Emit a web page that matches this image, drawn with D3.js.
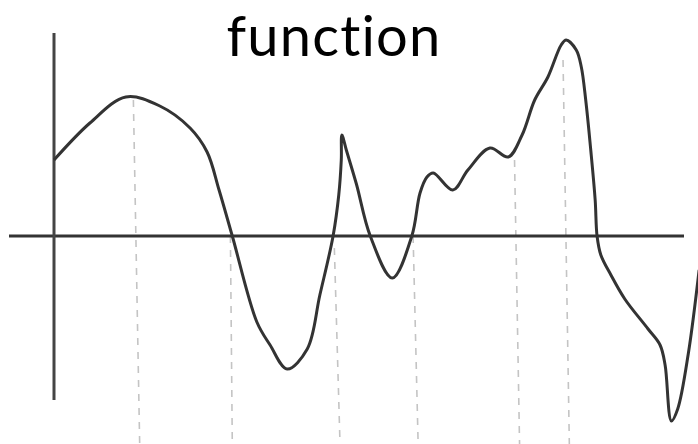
<!DOCTYPE html>
<html>
<head>
<meta charset="utf-8">
<script src="https://cdn.jsdelivr.net/npm/d3@7"></script>
<style>
  html, body { margin: 0; padding: 0; background: #fff; }
  svg { display: block; }
</style>
</head>
<body>
<script>
// ---- Data (x in abstract units 0..100, y in units -10..10) ----
const title = "function";
const curveX = [0, 5.7, 11.4, 16.8, 21.6, 24.3, 26.2, 28.3, 32.2, 34.3, 37.0, 40.2, 42.2, 44.3, 45.2, 45.6, 45.7, 46.4, 48.0, 50.2, 53.7, 56.8, 58.1, 59.2, 60.2, 63.3, 65.7, 69.2, 72.1, 74.3, 76.3, 78.4, 80.5, 81.3, 82.9, 83.7, 84.4, 85.2, 85.9, 86.2, 86.8, 88.4, 90.6, 94.3, 96.2, 97.0, 98.0, 99.0, 100.7, 102.4];
const curveY = [3.8, 5.65, 6.95, 6.5, 5.4, 4.2, 2.3, 0, -4.3, -5.45, -6.65, -5.65, -2.95, 0, 2.05, 3.8, 5.05, 4.3, 2.6, 0, -2.1, 0, 2.15, 2.95, 3.15, 2.3, 3.3, 4.4, 3.95, 5.05, 6.8, 7.95, 9.55, 9.8, 9.3, 8.45, 6.8, 4.3, 1.8, 0, -0.95, -1.95, -3.15, -4.65, -5.45, -6.45, -9.25, -8.65, -5.85, -1.7];
// dashed guide lines: x position (top, bottom) and top y value
const guideX0 = [12.6, 28.0, 44.5, 57.0, 73.1, 80.8];
const guideX1 = [13.6, 28.3, 45.4, 57.8, 73.9, 81.8];
const guideTop = [6.8, 0, -0.6, 0, 3.8, 8.8];

const W = 698, H = 444;
const x = d3.scaleLinear().domain([0, 100]).range([54, 684]);
const y = d3.scaleLinear().domain([-10, 10]).range([436, 36]);

const svg = d3.select("body").append("svg").attr("width", W).attr("height", H);

// dashed guides
const gGuides = svg.append("g");
guideX0.forEach((gx, i) => {
  gGuides.append("line")
    .attr("x1", x(gx)).attr("y1", y(guideTop[i]))
    .attr("x2", x(guideX1[i])).attr("y2", H)
    .attr("stroke", "#c4c4c4").attr("stroke-width", 1.6)
    .attr("stroke-dasharray", "7,7");
});

// axes
svg.append("line")
  .attr("x1", 9).attr("x2", x(100)).attr("y1", y(0)).attr("y2", y(0))
  .attr("stroke", "#333").attr("stroke-width", 3);
svg.append("line")
  .attr("x1", x(0)).attr("x2", x(0)).attr("y1", y(10.15)).attr("y2", y(-8.2))
  .attr("stroke", "#444").attr("stroke-width", 3);

// curve
const pts = curveX.map((v, i) => [v, curveY[i]]);
const line = d3.line().x(d => x(d[0])).y(d => y(d[1])).curve(d3.curveCatmullRom.alpha(0.5));
svg.append("path").datum(pts)
  .attr("d", line)
  .attr("fill", "none").attr("stroke", "#333").attr("stroke-width", 3)
  .attr("stroke-linejoin", "round");

// title
svg.append("text")
  .attr("x", 334).attr("y", 56)
  .attr("text-anchor", "middle")
  .attr("font-family", "Lato, 'Open Sans', sans-serif")
  .attr("font-size", 56)
  .attr("letter-spacing", 1.2)
  .attr("fill", "#000")
  .text(title);
</script>
</body>
</html>
